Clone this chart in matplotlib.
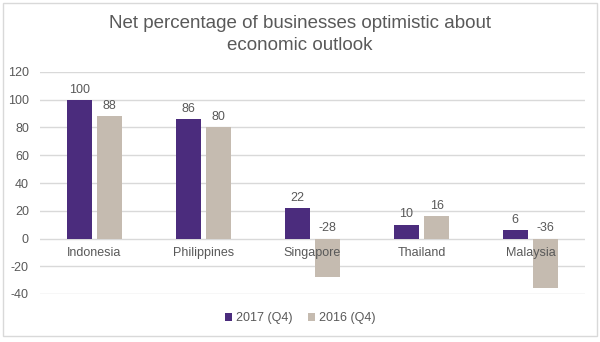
import matplotlib.pyplot as plt
import numpy as np
from matplotlib.patches import Rectangle

plt.rcParams['font.family'] = ['Liberation Sans', 'DejaVu Sans']
plt.rcParams['axes.unicode_minus'] = False

countries = ['Indonesia', 'Philippines', 'Singapore', 'Thailand', 'Malaysia']
q4_2017 = [100, 86, 22, 10, 6]
q4_2016 = [88, 80, -28, 16, -36]
series_names = ['2017 (Q4)', '2016 (Q4)']
colors = ['#4B2C7D', '#C5BBB0']
text_color = '#595959'

fig = plt.figure(figsize=(6, 3.42), dpi=100)
ax = fig.add_axes([40 / 600, 1 - 294 / 342, 545 / 600, 222 / 342])

# light frame round the whole chart
fig.patches.append(Rectangle((3 / 600, 1 - 336 / 342), 594 / 600, 333 / 342,
                             transform=fig.transFigure, fill=False,
                             edgecolor='#D9D9D9', linewidth=1))

x = np.arange(len(countries))
w = 0.23
off = 0.14
for vals, col, name, dx in zip([q4_2017, q4_2016], colors, series_names, [-off, off]):
    ax.bar(x + dx, vals, width=w, color=col, label=name, zorder=2)
    for xi, v in zip(x + dx, vals):
        # labels sit above the bar, or just above the baseline when negative
        ax.annotate(str(v), (xi, max(v, 0)), xytext=(0, 3), textcoords='offset points',
                    ha='center', va='bottom', fontsize=9, color=text_color)

ax.set_xlim(-0.5, 4.5)
ax.set_ylim(-40, 120)
yt = range(-40, 121, 20)
ax.set_yticks(yt)
for t in yt:
    ax.axhline(t, color='#D9D9D9', linewidth=1, zorder=0)
ax.set_xticks(x)
ax.set_xticklabels(countries)
ax.xaxis.set_zorder(4)
for s in ['top', 'right', 'left', 'bottom']:
    ax.spines[s].set_visible(False)
ax.spines['bottom'].set_position(('data', 0))
ax.tick_params(axis='both', length=0, labelsize=9, labelcolor=text_color)
ax.tick_params(axis='x', pad=6)
ax.tick_params(axis='y', pad=8)

fig.suptitle('Net percentage of businesses optimistic about\neconomic outlook',
             y=1 - 15 / 342, va='top', fontsize=13.5, color=text_color, linespacing=1.35)

fig.legend(loc='center', bbox_to_anchor=(0.5, 1 - 318 / 342), ncol=2, frameon=False,
           fontsize=9, labelcolor=text_color, handlelength=0.6, handleheight=0.6,
           handletextpad=0.3, columnspacing=1.2)

fig.savefig('out.png', dpi=100)
